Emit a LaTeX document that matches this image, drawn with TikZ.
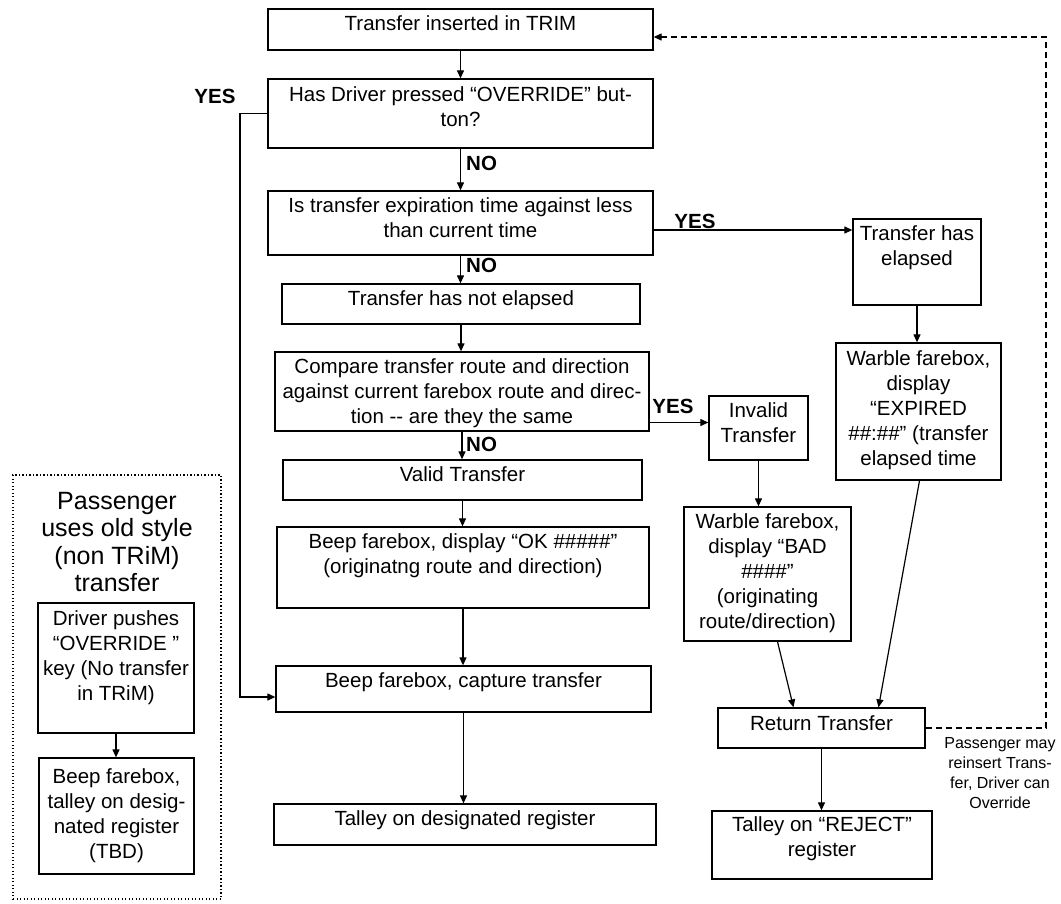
\documentclass[tikz,border=0pt]{standalone}
\usepackage{fontspec}
\setmainfont{Liberation Sans}
\usepackage{tikz}
\usetikzlibrary{arrows.meta,positioning}

\newcommand{\boxfont}{\fontsize{20.5}{25}\selectfont}
\newcommand{\notefont}{\fontsize{16}{20}\selectfont}
\newcommand{\titlefont}{\fontsize{25}{27.5}\selectfont}

\begin{document}
\begin{tikzpicture}[x=1pt, y=-1pt,
    box/.style={rectangle, draw, line width=1.3pt, inner sep=0pt},
    txt/.style={anchor=north, align=center, inner sep=0pt, font=\boxfont, yshift=-7.5pt},
    lbl/.style={font=\boxfont\bfseries, inner sep=0pt},
    arr/.style={-{Triangle[length=8pt,width=7pt]}, line width=1.2pt}
]
\useasboundingbox (0,0) rectangle (1061,903);

% main column
\node[box, minimum width=385pt, minimum height=41pt,
      label={[txt]north:Transfer inserted in TRIM}] (insert) at (460.5,29.5) {};
\node[box, minimum width=385pt, minimum height=69pt,
      label={[txt, yshift=-1pt]north:{Has Driver pressed “OVERRIDE” but-\\ton?}}] (override) at (460.5,113.5) {};
\node[box, minimum width=385pt, minimum height=64pt,
      label={[txt]north:{Is transfer expiration time against less\\than current time}}] (expire) at (460.5,223) {};
\node[box, minimum width=358pt, minimum height=40pt,
      label={[txt]north:Transfer has not elapsed}] (notel) at (461,304) {};
\node[box, minimum width=374pt, minimum height=79pt,
      label={[txt]north:{Compare transfer route and direction\\against current farebox route and direc-\\tion -{}- are they the same}}] (compare) at (462,391.5) {};
\node[box, minimum width=359pt, minimum height=40pt,
      label={[txt]north:Valid Transfer}] (valid) at (462.5,480) {};
\node[box, minimum width=372pt, minimum height=81pt,
      label={[txt]north:{Beep farebox, display “OK \#\#\#\#\#”\\(originatng route and direction)}}] (ok) at (463,567.5) {};
\node[box, minimum width=375pt, minimum height=46pt,
      label={[txt]north:{Beep farebox, capture transfer}}] (capture) at (463.5,689) {};
\node[box, minimum width=382pt, minimum height=41pt,
      label={[txt]north:Talley on designated register}] (tdesig) at (465,824.5) {};

% rejection side
\node[box, minimum width=128pt, minimum height=86pt,
      label={[txt]north:{Transfer has\\elapsed}}] (elapsed) at (917,262) {};
\node[box, minimum width=165pt, minimum height=137pt,
      label={[txt, yshift=-1pt]north:{Warble farebox,\\display\\“EXPIRED\\\#\#:\#\#” (transfer\\elapsed time}}] (expired) at (918.5,411.5) {};
\node[box, minimum width=99pt, minimum height=64pt,
      label={[txt]north:{Invalid\\Transfer}}] (invalid) at (758.5,428) {};
\node[box, minimum width=167pt, minimum height=134pt,
      label={[txt]north:{Warble farebox,\\display “BAD\\\#\#\#\#”\\(originating\\route/direction)}}] (bad) at (767.5,574) {};
\node[box, minimum width=207pt, minimum height=40pt,
      label={[txt, yshift=-1pt]north:Return Transfer}] (return) at (821.5,728) {};
\node[box, minimum width=220pt, minimum height=68pt,
      label={[txt, yshift=1pt]north:{Talley on “REJECT”\\register}}] (reject) at (822,845) {};
\node[font=\notefont, align=center, anchor=north, inner sep=0pt] (note) at (1000,737)
      {Passenger may\\reinsert Trans-\\fer, Driver can\\Override};

% old style transfer
\node[rectangle, draw, line width=1.3pt, dash pattern=on 1.3pt off 2.2pt,
      minimum width=208pt, minimum height=424pt] (legacy) at (117,687) {};
\node[font=\titlefont, align=center, anchor=north, inner sep=0pt] (legacyttl) at (117,492)
      {Passenger\\uses old style\\(non TRiM)\\transfer};
\node[box, minimum width=156pt, minimum height=130pt,
      label={[txt, yshift=-1pt]north:{Driver pushes\\“OVERRIDE ”\\key (No transfer\\in TRiM)}}] (driver) at (116,668) {};
\node[box, minimum width=155pt, minimum height=116pt,
      label={[txt, yshift=-4pt]north:{Beep farebox,\\talley on desig-\\nated register\\(TBD)}}] (tally) at (116.5,816) {};

% labels
\node[lbl] (yes1) at (215,96) {YES};
\node[lbl, anchor=west] (no1) at (466,163) {NO};
\node[lbl, anchor=west] (no2) at (466,265) {NO};
\node[lbl] (yes2) at (695,221) {YES};
\node[lbl] (yes3) at (673,406) {YES};
\node[lbl, anchor=west] (no3) at (466,444) {NO};

\coordinate (bend) at (240,0);
\coordinate (loopc) at (1046,37);

\draw[arr] (insert) -- (insert |- override.north);
\draw[arr] (override) -- (override |- expire.north);
\draw[arr] (expire) -- (expire |- notel.north);
\draw[arr] (notel) -- (notel |- compare.north);
\draw[arr] (compare) -- (compare |- valid.north);
\draw[arr] (valid) -- (valid |- ok.north);
\draw[arr] (ok) -- (ok |- capture.north);
\draw[arr] (capture) -- (capture |- tdesig.north);
\draw[arr] (override.west) -- (override.west -| bend) |- ([yshift=-8pt]capture.west);
\draw[arr] ([yshift=-7pt]expire.east) -- ([yshift=-7pt]expire.east -| elapsed.west);
\draw[arr] ([yshift=-31pt]compare.east) -- ([yshift=-31pt]compare.east -| invalid.west);
\draw[arr] (elapsed) -- (elapsed |- expired.north);
\draw[arr] (invalid) -- (invalid |- bad.north);
\draw[arr] ([xshift=10pt]bad.south) -- ([xshift=-28pt]return.north);
\draw[arr] ([xshift=1pt]expired.south) -- ([xshift=57pt]return.north);
\draw[arr] (return) -- (return |- reject.north);
\draw[arr, dash pattern=on 6pt off 4pt] (return.east) -| (loopc) -- ([yshift=-7.5pt]insert.east);
\draw[arr] (driver) -- (driver |- tally.north);
\end{tikzpicture}
\end{document}
